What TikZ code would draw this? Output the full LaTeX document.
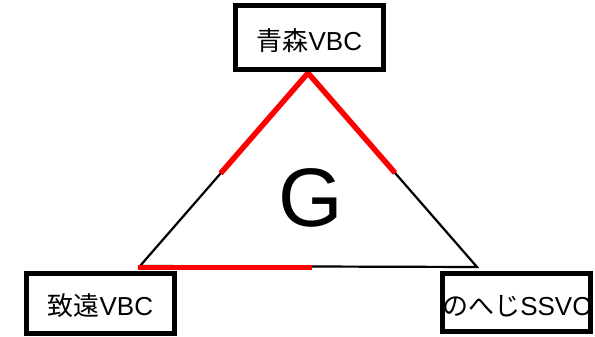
\documentclass[tikz,border=0pt]{standalone}
\usepackage{fontspec}
\setmainfont{Liberation Sans}
\newfontfamily\jp{Noto Sans CJK JP}
\usetikzlibrary{calc}
\begin{document}
\begin{tikzpicture}[x=1pt,y=-1pt,
  boxstyle/.style={draw=black,line width=5pt,fill=white,rectangle,inner sep=0pt,minimum width=148pt},
  labelstyle/.style={inner sep=0pt,anchor=base,font=\fontsize{26}{31}\selectfont},
  thinline/.style={draw=black,line width=2.2pt},
  redline/.style={draw=red,line width=5.5pt}]
\useasboundingbox (0,0) rectangle (595,337);
% triangle corners
\coordinate (A) at (308,73);
\coordinate (BL) at (140,266);
\coordinate (BR) at (477,267);
\coordinate (RL) at ($(A)!0.52!(BL)$);
\coordinate (RR) at ($(A)!0.515!(BR)$);
\coordinate (BL2) at (138,267.5);
\coordinate (RB2) at (312,267.5);
\draw[thinline] (A) -- (BL) -- (BR) -- cycle;
\draw[redline] (RL) -- (A) -- (RR);
\draw[redline] (BL2) -- (RB2);
% G
\node[inner sep=0pt,anchor=base,font=\fontsize{83}{90}\selectfont] (g) at (310.5,226.7) {G};
% boxes
\node[boxstyle,minimum height=64pt] (top) at (309,38) {};
\node[boxstyle,minimum height=60pt] (left) at (100,303) {};
\node[boxstyle,minimum height=58pt] (right) at (516.6,302) {};
\node[labelstyle] (toptext) at (309.3,50.7) {{\jp 青森}VBC};
\node[labelstyle] (lefttext) at (100.3,315.7) {{\jp 致遠}VBC};
\node[labelstyle] (righttext) at (516.7,315.7) {{\jp のへじ}SSVC};
\end{tikzpicture}
\end{document}
